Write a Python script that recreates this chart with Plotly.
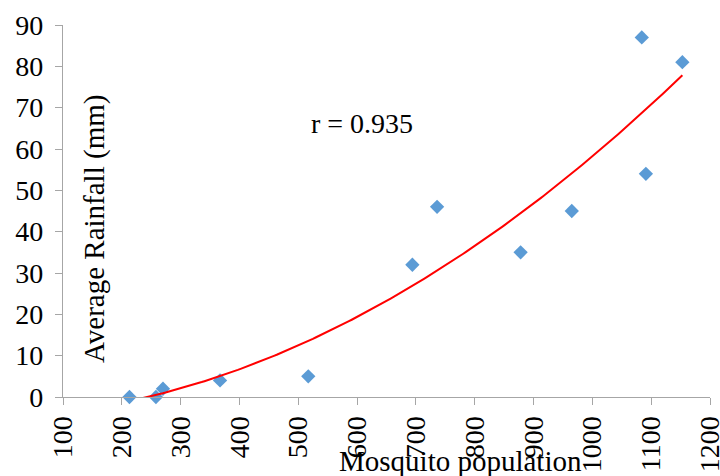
import numpy as np
import plotly.graph_objects as go

mosquito_population = [213, 258, 270, 367, 517, 694, 736, 878, 965, 1084, 1091, 1153]
average_rainfall = [0, 0, 2, 4, 5, 32, 46, 35, 45, 87, 54, 81]
x_ticks = list(range(100, 1201, 100))
y_ticks = list(range(0, 91, 10))
r_label = "r = 0.935"
x_title = "Mosquito population"
y_title = "Average Rainfall (mm)"

# quadratic trendline fitted to the data
coef = np.polyfit(mosquito_population, average_rainfall, 2)
tx = np.linspace(min(mosquito_population), max(mosquito_population), 200)
ty = np.polyval(coef, tx)

font = "Liberation Serif, Times New Roman, serif"
fig = go.Figure()
fig.add_trace(go.Scatter(x=mosquito_population, y=average_rainfall, mode="markers",
                         marker=dict(symbol="diamond", size=11, color="#5B9BD5"),
                         showlegend=False, cliponaxis=False))
fig.add_trace(go.Scatter(x=tx, y=ty, mode="lines", line=dict(color="#FF0000", width=2),
                         showlegend=False))

axis_common = dict(showgrid=False, zeroline=False, showline=True, linecolor="#A6A6A6",
                   linewidth=1.3, ticks="outside", ticklen=7, tickcolor="#A6A6A6",
                   automargin=False, ticklabeloverflow="allow",
                   tickfont=dict(family=font, size=28, color="black"))
fig.update_xaxes(range=[100, 1200], tickvals=x_ticks, ticktext=[str(v) for v in x_ticks],
                 tickangle=-90, **axis_common)
fig.update_yaxes(range=[0, 90], tickvals=y_ticks, ticktext=[str(v) for v in y_ticks],
                 ticklabelstandoff=6, **axis_common)

W, H = 720, 476
l, r, t, b = 63, 10, 25, 79
fig.update_layout(width=W, height=H, plot_bgcolor="white", paper_bgcolor="white",
                  margin=dict(l=l, r=r, t=t, b=b))
pw, ph = W - l - r, H - t - b
def px(xp): return (xp - l) / pw
def py(yp): return (H - b - yp) / ph

ann = dict(xref="paper", yref="paper", showarrow=False, xanchor="center", yanchor="middle")
fig.add_annotation(x=px(362), y=py(123), text=r_label,
                   font=dict(family=font, size=28, color="black"), **ann)
fig.add_annotation(x=px(95), y=py(229), text=y_title, textangle=-90,
                   font=dict(family=font, size=29, color="black"), **ann)
fig.add_annotation(x=px(461), y=py(461), text=x_title,
                   font=dict(family=font, size=29, color="black"), **ann)
fig.write_html("out.html", config={"displayModeBar": False},
               post_script="document.body.style.margin='0';document.body.style.overflow='hidden';")
